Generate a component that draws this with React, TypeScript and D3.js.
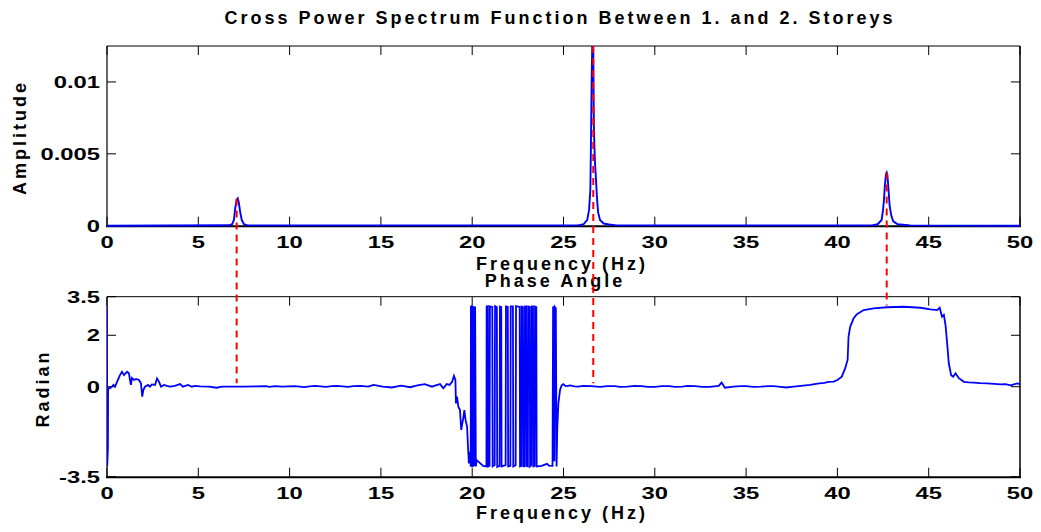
import React from 'react';
import * as d3 from 'd3';

// ---------- data ----------
const xTicks = [0, 5, 10, 15, 20, 25, 30, 35, 40, 45, 50];
const xTickLabels = ['0', '5', '10', '15', '20', '25', '30', '35', '40', '45', '50'];
const ampTicks = [0, 0.005, 0.01];
const ampTickLabels = ['0', '0.005', '0.01'];
const phaseTicks = [-3.5, 0, 2, 3.5];
const phaseTickLabels = ['-3.5', '0', '2', '3.5'];

const titleTop = 'Cross Power Spectrum Function Between 1. and 2. Storeys';
const titleBottom = 'Phase Angle';
const xLabel = 'Frequency (Hz)';
const yLabelTop = 'Amplitude';
const yLabelBottom = 'Radian';

// amplitude spectrum [Hz, amplitude]
const ampData: [number, number][] = [
  [0, 0], [6.7, 0.00003], [6.85, 0.0001], [6.95, 0.0004], [7.02, 0.0012], [7.1, 0.0018],
  [7.16, 0.0019], [7.22, 0.0016], [7.3, 0.0009], [7.38, 0.0004], [7.5, 0.0001], [7.7, 0.00002],
  [25.8, 0.00002], [26.1, 0.0001], [26.3, 0.0004], [26.4, 0.0011], [26.47, 0.0025], [26.5, 0.0053],
  [26.54, 0.0099], [26.58, 0.013], [26.62, 0.0135], [26.65, 0.009], [26.67, 0.0065], [26.72, 0.0045],
  [26.78, 0.0032], [26.84, 0.0018], [26.9, 0.0009], [27.0, 0.0004], [27.2, 0.00015], [27.5, 0.00008],
  [27.9, 0.00002], [41.9, 0.00002], [42.2, 0.0001], [42.42, 0.0004], [42.5, 0.0011], [42.55, 0.0018],
  [42.6, 0.0028], [42.66, 0.0036], [42.7, 0.0037], [42.74, 0.0035], [42.8, 0.0025], [42.86, 0.0014],
  [42.95, 0.0007], [43.06, 0.0003], [43.3, 0.0001], [44.0, 0.00002], [50, 0],
];

// phase angle [Hz, radian]
const phaseData: [number, number][] = [
  [0, 3.14], [0.01, -3.1], [0.05, -2.4], [0.06, -0.05], [0.16, -0.06], [0.27, 0], [0.35, 0.07],
  [0.44, 0], [0.55, 0.19], [0.71, 0.45], [0.82, 0.58], [0.93, 0.45], [1.1, 0.58], [1.2, 0.52],
  [1.26, 0.26], [1.31, 0.07], [1.37, 0.34], [1.48, 0.26], [1.59, 0.3], [1.75, 0.26], [1.86, 0.13],
  [1.93, -0.39], [1.99, -0.13], [2.08, 0], [2.25, 0.07], [2.35, 0], [2.46, 0.09], [2.63, 0.07],
  [2.74, 0.32], [2.85, 0.19], [2.96, 0], [3.12, 0.07], [3.29, 0.03], [3.45, 0], [3.72, 0.03],
  [4.0, 0.1], [4.16, 0], [4.44, 0.07], [4.65, 0], [4.8, 0.03], [5.1, 0.01], [5.6, 0], [6.0, -0.04], [6.3, 0],
  [7.5, 0], [8.2, 0.01], [8.7, 0.02], [8.9, -0.01], [9.2, 0.02], [9.6, 0], [10.3, 0.02], [10.8, -0.02], [11.1, 0.01], [11.4, 0.03],
  [12.0, -0.01], [12.3, 0.02], [12.6, 0.03], [13.2, -0.01], [13.5, 0.02], [13.9, 0.03], [14.3, 0.0], [14.6, 0.07], [15.1, 0], [15.6, -0.03],
  [16.1, 0.04], [16.6, -0.02], [17.0, 0.05], [17.4, 0.1], [17.8, 0.0], [18.0, 0.05], [18.24, 0.1],
  [18.42, -0.06], [18.6, 0.1], [18.76, 0.07], [18.9, 0.19], [19.0, 0.42], [19.08, 0.26], [19.11, -0.65],
  [19.17, -0.39], [19.24, -0.78], [19.33, -0.91], [19.4, -1.68], [19.46, -1.42], [19.51, -1.23],
  [19.57, -0.91], [19.64, -1.3], [19.72, -1.56], [19.77, -2.33], [19.82, -2.98], [19.88, -2.53],
  [19.92, -3.1], [19.93, 3.14], [19.96, 3.1], [19.97, -3.12], [20.0, 3.12], [20.03, 3.1], [20.04, -3.12],
  [20.08, 3.13], [20.1, -3.08], [20.16, 3.12], [20.2, -3.1], [20.24, -2.85], [20.4, -2.95], [20.6, -3.08],
  [20.78, -3.1], [20.79, 3.12], [20.86, 3.13], [20.88, -3.1], [20.95, -3.08], [20.97, 3.12], [21.1, 3.1],
  [21.12, -3.1], [21.23, -3.05], [21.25, 3.13], [21.35, 3.1], [21.37, -3.12], [21.5, -3.08], [21.52, 3.12],
  [21.59, 3.1], [21.61, -3.1], [21.83, -3.05], [21.85, 3.12], [21.95, 3.1], [21.97, -3.1], [22.09, -3.08],
  [22.11, 3.12], [22.23, 3.12], [22.25, -3.1], [22.38, -3.05], [22.4, 3.13], [22.6, 3.1], [22.62, -3.1],
  [22.69, -3.08], [22.71, 3.12], [22.78, 3.1], [22.8, -3.1], [22.87, -3.1], [22.89, 3.12], [22.96, 3.12],
  [22.98, -3.08], [23.05, -3.1], [23.07, 3.12], [23.15, 3.1], [23.17, -3.1], [23.24, -3.05], [23.26, 3.12],
  [23.33, 3.12], [23.35, -3.1], [23.42, -3.08], [23.44, 3.12], [23.51, 3.1], [23.53, -3.1], [23.8, -3.08],
  [24.1, -3.0], [24.2, -3.07], [24.4, -3.08], [24.43, 3.12], [24.48, 3.05], [24.5, -2.9], [24.53, 3.1],
  [24.58, 3.05], [24.62, -3.1], [24.66, -1.6], [24.72, -0.65], [24.81, -0.13], [24.9, 0.05], [24.99, 0.1],
  [25.1, 0.03], [25.18, 0.02], [25.36, 0.05], [25.6, 0.01], [25.8, 0.0], [26.1, 0.03], [26.5, 0.02], [27.0, -0.01],
  [27.4, 0.02], [27.8, 0.02], [28.1, -0.01], [28.5, 0.0], [28.9, 0.03], [29.3, 0.02], [29.6, -0.01], [30.0, -0.01],
  [30.4, 0.02], [30.8, 0.02], [31.1, -0.01], [31.5, 0.0], [31.8, 0.03], [32.2, 0.02], [32.6, -0.01], [33.0, -0.01],
  [33.5, 0.03], [33.66, 0.16], [33.84, -0.04], [34.3, 0.0], [34.7, 0.02], [35.0, 0.02], [35.4, -0.01], [35.8, 0.0],
  [36.2, 0.02], [36.5, 0.02], [36.9, -0.01], [37.2, -0.03], [37.6, 0.0], [38.0, 0.03], [38.5, 0.07], [39.0, 0.13],
  [39.3, 0.15], [39.5, 0.19], [39.8, 0.2], [40.0, 0.26], [40.24, 0.39], [40.43, 0.72], [40.5, 0.9], [40.56, 1.04],
  [40.61, 1.95], [40.7, 2.33], [40.89, 2.66], [41.07, 2.82], [41.44, 2.98], [41.99, 3.05], [42.72, 3.09],
  [43.63, 3.11], [44.55, 3.07], [45.1, 3.01], [45.46, 2.98], [45.6, 3.07], [45.73, 2.72], [45.83, 2.79],
  [45.92, 2.4], [46.01, 1.69], [46.1, 0.91], [46.23, 0.45], [46.34, 0.39], [46.47, 0.52], [46.65, 0.33],
  [46.93, 0.19], [47.2, 0.17], [47.48, 0.16], [47.8, 0.14], [48.2, 0.13], [48.6, 0.11], [48.93, 0.09],
  [49.2, 0.1], [49.48, 0.05], [49.85, 0.13], [50, 0.1],
];

// red dashed markers linking the peaks to the phase
const peakFreqs = [7.1, 26.63, 42.7];
const peakAmps = [0.0019, 0.0125, 0.0037];
const peakPhases = [0.13, 0.13, 3.16];

// ---------- layout ----------
const W = 1041;
const H = 532;
const X0 = 107;
const X1 = 1020;
const FONT = "'Liberation Sans', Arial, Helvetica, sans-serif";

const x = d3.scaleLinear().domain([0, 50]).range([X0, X1]);
const yA = d3.scaleLinear().domain([0, 0.0125]).range([225.7, 46]);
const yP = d3.scaleLinear().domain([-3.5, 3.5]).range([476.7, 296.7]);

const ampLine = d3.line<[number, number]>().x((d) => x(d[0])).y((d) => yA(d[1]));
const phaseLine = d3.line<[number, number]>().x((d) => x(d[0])).y((d) => yP(d[1]));

type TProps = {
  x: number; y: number; anchor?: string; size?: number; sx?: number; rot?: number; ls?: number; children: React.ReactNode;
};
function T({ x: tx, y: ty, anchor = 'middle', size = 17, sx = 1, rot = 0, ls = 0, children }: TProps) {
  return (
    <text
      transform={`translate(${tx},${ty}) rotate(${rot}) scale(${sx},1)`}
      textAnchor={anchor}
      fontSize={size}
      fontWeight="bold"
      fontFamily={FONT}
      letterSpacing={ls}
      fill="#000"
    >
      {children}
    </text>
  );
}

function Frame({ y, tickVals, tickLabels, labelSx }: { y: d3.ScaleLinear<number, number>; tickVals: number[]; tickLabels: string[]; labelSx: number }) {
  const [yb, yt] = y.range();
  const tl = 9;
  return (
    <g>
      <line x1={X0} x2={X1} y1={yt} y2={yt} stroke="#000" strokeWidth={1} />
      <line x1={X1} x2={X1} y1={yt} y2={yb} stroke="#000" strokeWidth={1.5} />
      <line x1={X0} x2={X0} y1={yt} y2={yb} stroke="#000" strokeWidth={1.2} />
      <line x1={X0 - 1} x2={X1 + 1} y1={yb + 0.5} y2={yb + 0.5} stroke="#000" strokeWidth={2} />
      {xTicks.map((t, i) => (
        <g key={'xt' + i}>
          <line x1={x(t)} x2={x(t)} y1={yb} y2={yb - tl} stroke="#000" strokeWidth={1} />
          <line x1={x(t)} x2={x(t)} y1={yt} y2={yt + tl} stroke="#000" strokeWidth={1} />
        </g>
      ))}
      {tickVals.map((t, i) => (
        <g key={'yt' + i}>
          <line x1={X0} x2={X0 + tl} y1={y(t)} y2={y(t)} stroke="#000" strokeWidth={1} />
          <line x1={X1} x2={X1 - tl} y1={y(t)} y2={y(t)} stroke="#000" strokeWidth={1} />
          <T x={100} y={y(t) + 6} anchor="end" sx={labelSx}>{tickLabels[i]}</T>
        </g>
      ))}
      {xTicks.map((t, i) => (
        <T key={'xl' + i} x={x(t)} y={yb + 22.5} sx={1.4}>{xTickLabels[i]}</T>
      ))}
    </g>
  );
}

export default function App() {
  return (
    <svg width={W} height={H} style={{ position: 'absolute', left: 0, top: 0, background: '#fff' }}>
      <defs>
        <clipPath id="clipA">
          <rect x={X0} y={yA.range()[1]} width={X1 - X0} height={yA.range()[0] - yA.range()[1] + 2} />
        </clipPath>
        <clipPath id="clipP">
          <rect x={X0} y={yP.range()[1]} width={X1 - X0} height={yP.range()[0] - yP.range()[1]} />
        </clipPath>
      </defs>
      <rect x={0} y={0} width={W} height={H} fill="#fff" />

      <Frame y={yA} tickVals={ampTicks} tickLabels={ampTickLabels} labelSx={1.4} />
      <Frame y={yP} tickVals={phaseTicks} tickLabels={phaseTickLabels} labelSx={1.4} />

      <path d={ampLine(ampData) || ''} fill="none" stroke="#0000ff" strokeWidth={1.9} clipPath="url(#clipA)" />
      <path d={phaseLine(phaseData) || ''} fill="none" stroke="#0000ff" strokeWidth={1.8} clipPath="url(#clipP)" />

      {/* titles & labels */}
      <T x={560} y={24} size={18} ls={3}>{titleTop}</T>
      <T x={562} y={270} size={18} ls={3}>{xLabel}</T>
      <T x={555} y={286.5} size={18} ls={3}>{titleBottom}</T>
      <T x={562} y={519} size={18} ls={3}>{xLabel}</T>
      <T x={26} y={137.5} size={18} ls={3} rot={-90}>{yLabelTop}</T>
      <T x={48.5} y={388.5} size={18} ls={3} rot={-90}>{yLabelBottom}</T>

      {peakFreqs.map((f, i) => (
        <line
          key={'pk' + i}
          x1={x(f)}
          x2={x(f)}
          y1={yA(peakAmps[i])}
          y2={yP(peakPhases[i])}
          stroke="#ff0000"
          strokeWidth={2}
          strokeDasharray="7,5"
        />
      ))}
    </svg>
  );
}
